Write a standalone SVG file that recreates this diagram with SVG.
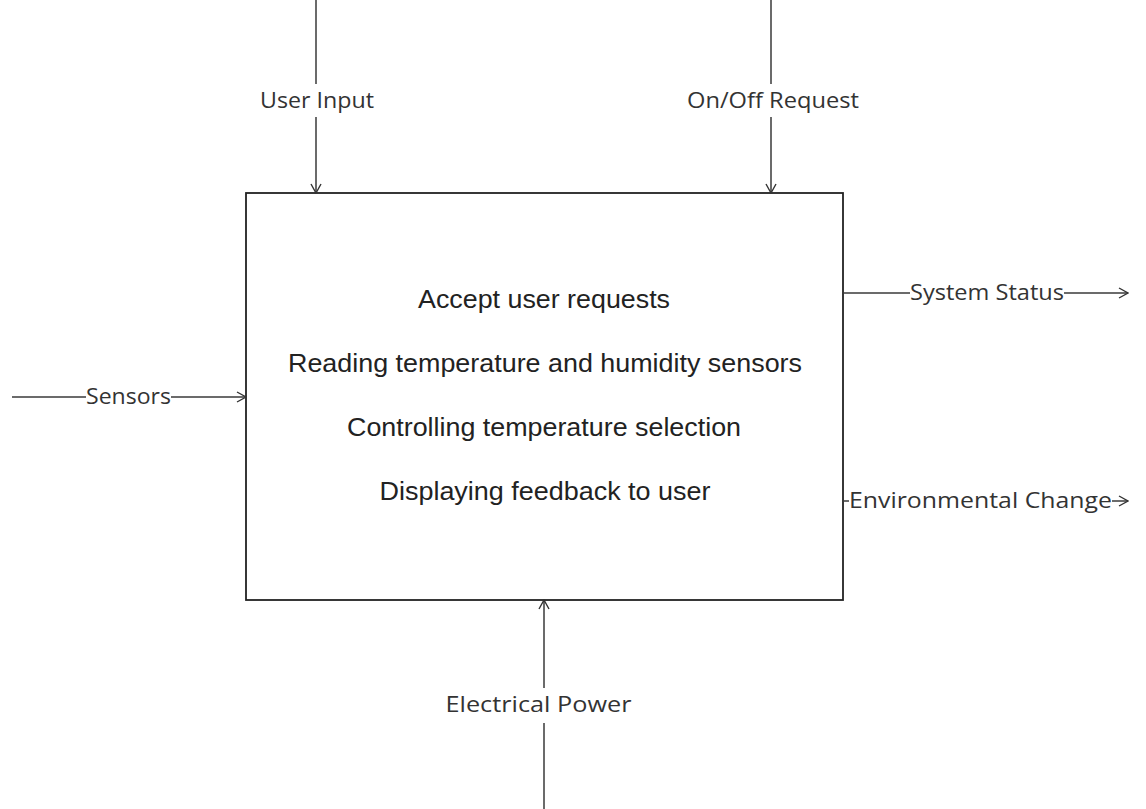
<svg xmlns="http://www.w3.org/2000/svg" width="1146" height="809" viewBox="0 0 1146 809">
<style>
.ln{stroke:#3a3a3a;stroke-width:1.5;fill:none}
.lbl{font-family:"Open Sans",sans-serif;font-size:21px;fill:#333;text-anchor:middle}
.fn{font-family:"Liberation Sans",Arial,sans-serif;font-size:25px;fill:#222;text-anchor:middle}
</style>
<defs>
<marker id="ah" viewBox="0 0 12 12" refX="11" refY="6" markerWidth="12" markerHeight="12" markerUnits="userSpaceOnUse" orient="auto">
<path d="M2,1 L11,6 L2,11" fill="none" stroke="#333" stroke-width="1.4"/>
</marker>
</defs>
<rect width="1146" height="809" fill="#fff"/>
<g id="function">
<rect x="246" y="193" width="597" height="407" fill="#fff" stroke="#222" stroke-width="1.8"/>
<text class="fn" x="544" y="308" textLength="252" lengthAdjust="spacingAndGlyphs">Accept user requests</text>
<text class="fn" x="545" y="372" textLength="514" lengthAdjust="spacingAndGlyphs">Reading temperature and humidity sensors</text>
<text class="fn" x="544" y="436" textLength="394" lengthAdjust="spacingAndGlyphs">Controlling temperature selection</text>
<text class="fn" x="545" y="500" textLength="331" lengthAdjust="spacingAndGlyphs">Displaying feedback to user</text>
</g>
<g id="connectors">
<g id="user-input">
<line class="ln" x1="316" y1="0" x2="316" y2="84"/>
<line class="ln" x1="316" y1="117" x2="316" y2="193" marker-end="url(#ah)"/>
<text class="lbl" x="317" y="108" textLength="114" lengthAdjust="spacingAndGlyphs">User Input</text>
</g>
<g id="onoff">
<line class="ln" x1="771" y1="0" x2="771" y2="84"/>
<line class="ln" x1="771" y1="117" x2="771" y2="193" marker-end="url(#ah)"/>
<text class="lbl" x="773" y="108" textLength="172" lengthAdjust="spacingAndGlyphs">On/Off Request</text>
</g>
<g id="sensors">
<line class="ln" x1="12" y1="397" x2="86" y2="397"/>
<line class="ln" x1="171" y1="397" x2="246" y2="397" marker-end="url(#ah)"/>
<text class="lbl" x="128.5" y="404" textLength="85" lengthAdjust="spacingAndGlyphs">Sensors</text>
</g>
<g id="status">
<line class="ln" x1="843" y1="293" x2="910" y2="293"/>
<line class="ln" x1="1064" y1="293" x2="1128" y2="293" marker-end="url(#ah)"/>
<text class="lbl" x="987" y="300" textLength="154" lengthAdjust="spacingAndGlyphs">System Status</text>
</g>
<g id="env">
<line class="ln" x1="843" y1="501" x2="849" y2="501"/>
<line class="ln" x1="1112" y1="501" x2="1128" y2="501" marker-end="url(#ah)"/>
<text class="lbl" x="980.5" y="508" textLength="263" lengthAdjust="spacingAndGlyphs">Environmental Change</text>
</g>
<g id="power">
<line class="ln" x1="544" y1="809" x2="544" y2="723"/>
<line class="ln" x1="544" y1="688" x2="544" y2="600" marker-end="url(#ah)"/>
<text class="lbl" x="538.5" y="712" textLength="186" lengthAdjust="spacingAndGlyphs">Electrical Power</text>
</g>
</g>
</svg>
